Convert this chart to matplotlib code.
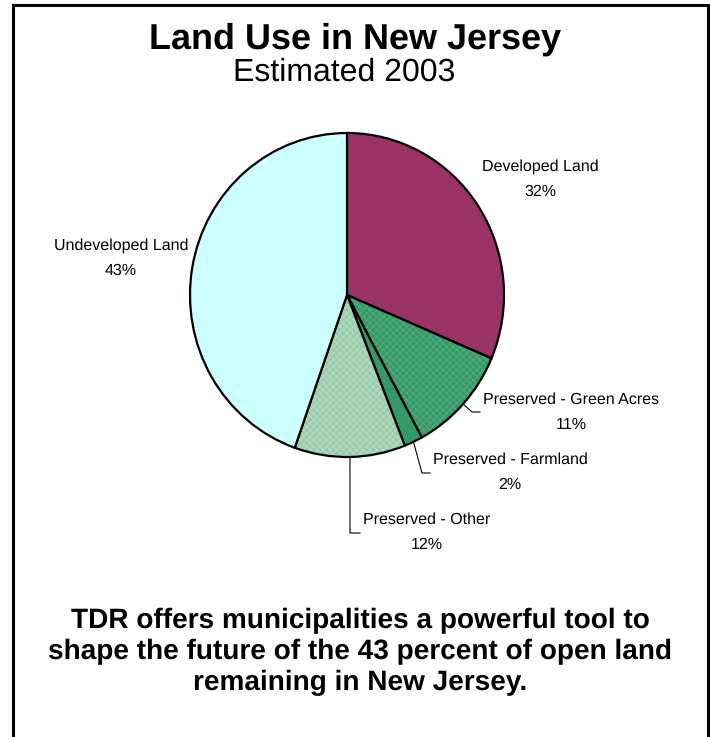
import numpy as np
import matplotlib
matplotlib.use('Agg')
import matplotlib.pyplot as plt
from matplotlib.lines import Line2D

plt.rcParams['font.family'] = ['Liberation Sans', 'DejaVu Sans']
plt.rcParams['hatch.linewidth'] = 0.6
plt.rcParams['text.hinting'] = 'no_hinting'
plt.rcParams['text.hinting_factor'] = 1

# data (shares, labels as printed)
names = ['Developed Land', 'Preserved - Green Acres', 'Preserved - Farmland',
         'Preserved - Other', 'Undeveloped Land']
shares = [31.4, 10.7, 1.9, 11.4, 44.6]
pct_text = ['32%', '11%', '2%', '12%', '43%']
colors = ['#993366', '#339966', '#339966', '#99ccaa', '#ccffff']
hatches = ['', 'xxxxx', '', 'xxxxx', '']
hatch_cols = ['#993366', '#58ad80', '#339966', '#b8dcc6', '#ccffff']

W, H = 710, 737
fig = plt.figure(figsize=(W / 100, H / 100), dpi=100)

# pie axes: centre (347,295) px, rx 157, ry 162
cx, cy, rx, ry = 347, 295, 157, 162
ax = fig.add_axes([(cx - rx) / W, (H - cy - ry) / H, 2 * rx / W, 2 * ry / H])
wedges, _ = ax.pie(shares, colors=colors, startangle=90, counterclock=False,
                   wedgeprops=dict(edgecolor='black', linewidth=1.6))
for w, h, hc in zip(wedges, hatches, hatch_cols):
    if h:
        w.set_hatch(h)
        w._hatch_color = matplotlib.colors.to_rgba(hc)
ax.set_aspect('auto')
ax.set_xlim(-1, 1)
ax.set_ylim(-1, 1)
ax.axis('off')


def px(x, y):
    # pixel position -> pie data coords
    return (x - cx) / rx, (cy - y) / ry


def mid_pt(w):
    a = np.deg2rad((w.theta1 + w.theta2) / 2)
    return np.cos(a), np.sin(a)


lab_fs = 11.5
lab_ls = 1.85
# labels without leaders
for i, (x, y) in [(0, (540, 179)), (4, (121, 258))]:
    ax.text(*px(x, y), names[i] + '\n' + pct_text[i], ha='center', va='center',
            fontsize=lab_fs, linespacing=lab_ls, clip_on=False)

# labels with leader lines: (index, elbow px, end px, label centre px)
leaders = [(1, (472, 412), (480, 412), (571, 412)),
           (2, (422, 473), (430, 473), (510, 472)),
           (3, (350, 533), (360, 533), (427, 532))]
for i, elbow, end, lab in leaders:
    sx, sy = mid_pt(wedges[i])
    ex, ey = px(*elbow)
    fx, fy = px(*end)
    ax.plot([sx, ex, fx], [sy, ey, fy], color='black', lw=0.8, clip_on=False)
    ax.text(*px(*lab), names[i] + '\n' + pct_text[i], ha='center', va='center',
            fontsize=lab_fs, linespacing=lab_ls, clip_on=False)

# titles
fig.text(355 / W, 1 - 49 / H, 'Land Use in New Jersey', ha='center',
         va='baseline', fontsize=26, fontweight='bold')
fig.text(344 / W, 1 - 81 / H, 'Estimated 2003', ha='center', va='baseline',
         fontsize=23.3)

bottom_lines = ['TDR offers municipalities a powerful tool to',
                'shape the future of the 43 percent of open land',
                'remaining in New Jersey.']
for k, line in enumerate(bottom_lines):
    fig.text(360 / W, 1 - (628 + 31 * k) / H, line, ha='center', va='baseline',
             fontsize=20.2, fontweight='bold')

# frame: left, top and right edges
bw = 2.2
fx0, fx1, fy0 = 13 / W, 708 / W, 1 - 5 / H
fig.add_artist(Line2D([fx0, fx0], [0, fy0], transform=fig.transFigure,
                      color='black', lw=bw, solid_capstyle='projecting'))
fig.add_artist(Line2D([fx0, fx1], [fy0, fy0], transform=fig.transFigure,
                      color='black', lw=bw, solid_capstyle='projecting'))
fig.add_artist(Line2D([fx1, fx1], [0, fy0], transform=fig.transFigure,
                      color='black', lw=bw, solid_capstyle='projecting'))

fig.savefig('out.png', dpi=100, facecolor='white')
